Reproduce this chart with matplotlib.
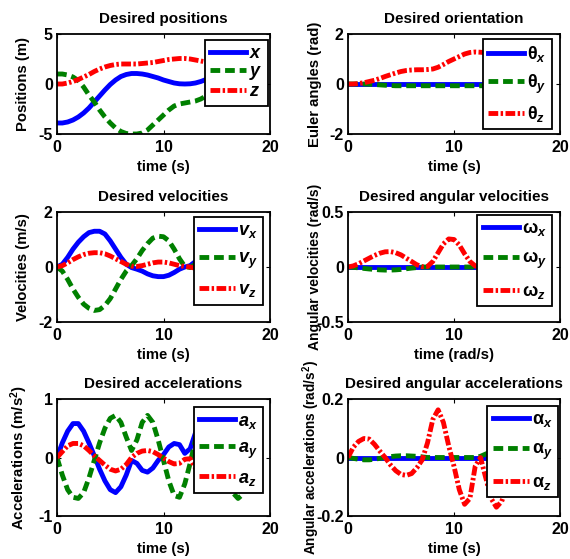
#!/usr/bin/env python3

import matplotlib
matplotlib.use('Agg')
import matplotlib.pyplot as plt
import numpy as np

# time grid of the trajectory (s)
time = np.arange(0, 17.6, 0.5)

# desired positions (m)
pos_x = [-3.9, -3.9, -3.8, -3.6, -3.3, -2.9, -2.4, -1.8, -1.2, -0.6,
         -0.05, 0.4, 0.75, 0.95, 1.05, 1.05, 1.0, 0.9, 0.75, 0.6,
         0.4, 0.25, 0.1, 0.02, 0.0, 0.02, 0.1, 0.25, 0.45,
         0.7, 0.9, 1.0, 1.05, 1.05, 1.05, 1.05]
pos_y = [1.0, 1.0, 0.9, 0.7, 0.35, -0.3, -1.1, -1.8, -2.6, -3.3,
         -3.9, -4.4, -4.75, -4.95, -5.0, -5.0, -4.9, -4.6, -4.1, -3.6,
         -3.1, -2.6, -2.2, -2.0, -1.9, -1.8, -1.7, -1.5, -1.2,
         -1.0, -0.8, -0.7, -0.6, -0.6, -0.6, -0.6]
pos_z = [0.0, 0.0, 0.1, 0.25, 0.45, 0.7, 0.95, 1.25, 1.5, 1.7,
         1.85, 1.95, 2.0, 2.0, 2.0, 2.0, 2.05, 2.1, 2.15, 2.25,
         2.35, 2.45, 2.5, 2.55, 2.55, 2.5, 2.4, 2.3, 2.2,
         2.1, 2.0, 2.0, 2.0, 2.0, 2.0, 2.0]

# desired Euler angles (rad)
ang_x = [0.0] * 36
ang_y = [0.0, 0.0, 0.0, 0.0, -0.01, -0.02, -0.035, -0.05, -0.06, -0.07] + [-0.07] * 26
ang_z = [0.0, 0.0, 0.02, 0.05, 0.1, 0.15, 0.22, 0.3, 0.37, 0.44,
         0.5, 0.54, 0.56, 0.57, 0.57, 0.58, 0.6, 0.67, 0.78, 0.9,
         1.0, 1.1, 1.2, 1.26, 1.28, 1.27, 1.25, 1.24,
         1.24, 1.24, 1.24, 1.24, 1.24, 1.24, 1.24, 1.24]

# desired velocities (m/s)
vel_x = [0.0, 0.1, 0.35, 0.65, 0.9, 1.1, 1.25, 1.3, 1.3, 1.2,
         0.95, 0.65, 0.35, 0.1, -0.02, -0.08, -0.15, -0.25, -0.32, -0.35,
         -0.35, -0.3, -0.2, -0.08, 0.0, 0.05, 0.2, 0.45,
         0.7, 0.9, 1.0, 1.0, 0.9, 0.7, 0.5, 0.3]
vel_y = [0.0, -0.15, -0.45, -0.8, -1.1, -1.35, -1.5, -1.58, -1.55, -1.4,
         -1.15, -0.8, -0.45, -0.15, 0.05, 0.3, 0.6, 0.85, 1.05, 1.12,
         1.1, 0.95, 0.65, 0.3, 0.02, -0.02, 0.1, 0.35,
         0.6, 0.7, 0.6, 0.4, 0.2, 0.0, -0.2, -0.3]
vel_z = [0.0, 0.05, 0.15, 0.27, 0.37, 0.45, 0.5, 0.52, 0.52, 0.48,
         0.4, 0.3, 0.2, 0.1, 0.03, 0.02, 0.05, 0.1, 0.15, 0.18,
         0.18, 0.15, 0.1, 0.05, 0.02, 0.0, -0.05, -0.12,
         -0.15, -0.12, -0.1, -0.05, 0.0, 0.0, 0.0, 0.0]

# desired angular velocities (rad/s)
omg_x = [0.0] * 36
omg_y = [0.0, -0.003, -0.008, -0.013, -0.018, -0.022, -0.026, -0.028, -0.028, -0.026,
         -0.022, -0.016, -0.01, -0.005, 0.0] + [0.0] * 21
omg_z = [0.0, 0.01, 0.03, 0.055, 0.08, 0.105, 0.125, 0.138, 0.14, 0.13,
         0.11, 0.08, 0.05, 0.02, 0.003, 0.005, 0.05, 0.13, 0.21, 0.255,
         0.25, 0.2, 0.12, 0.05, 0.01, -0.01, -0.05, -0.09,
         -0.12, -0.1, -0.05, 0.0, 0.0, 0.0, 0.0, 0.0]

# desired accelerations (m/s^2)
acc_x = [0.0, 0.25, 0.45, 0.58, 0.58, 0.45, 0.25, 0.03, -0.2, -0.4,
         -0.55, -0.6, -0.5, -0.3, -0.05, -0.1, -0.22, -0.25, -0.18, -0.05,
         0.05, 0.18, 0.24, 0.22, 0.07, 0.15, 0.42, 0.7,
         0.75, 0.6, 0.3, 0.0, -0.2, -0.3, -0.3, -0.2]
acc_y = [0.0, -0.3, -0.55, -0.68, -0.7, -0.6, -0.35, -0.05, 0.25, 0.5,
         0.67, 0.72, 0.6, 0.35, 0.12, 0.3, 0.6, 0.72, 0.6, 0.3,
         -0.05, -0.4, -0.65, -0.68, -0.45, -0.1, 0.3, 0.6,
         0.72, 0.6, 0.3, -0.1, -0.45, -0.6, -0.7, -0.62]
acc_z = [0.0, 0.1, 0.2, 0.24, 0.24, 0.2, 0.12, 0.03, -0.05, -0.13,
         -0.2, -0.23, -0.2, -0.12, 0.0, 0.07, 0.11, 0.12, 0.1, 0.05,
         -0.01, -0.07, -0.11, -0.1, -0.03, -0.02, -0.18, -0.3,
         -0.35, -0.3, -0.2, -0.1, 0.0, 0.05, 0.05, 0.03]

# desired angular accelerations (rad/s^2)
alp_x = [0.0] * 36
alp_y = [0.0, -0.003, -0.006, -0.008, -0.008, -0.006, -0.003, 0.0, 0.003, 0.005,
         0.006, 0.006, 0.005, 0.004, 0.002, 0.0, 0.0, 0.0, 0.0, 0.0,
         0.0, 0.0, 0.0, 0.0, 0.0, 0.004, 0.012, 0.02,
         0.02, 0.015, 0.01, 0.005, 0.0, 0.0, 0.0, 0.0]
alp_z = [0.0, 0.035, 0.055, 0.065, 0.063, 0.045, 0.022, 0.0, -0.025, -0.045,
         -0.058, -0.061, -0.055, -0.035, -0.008, 0.05, 0.13, 0.163, 0.12, 0.04,
         -0.03, -0.11, -0.16, -0.14, -0.03, 0.0, -0.07, -0.14,
         -0.17, -0.15, -0.1, -0.05, -0.01, 0.0, 0.0, 0.0]

x_ticks = [0, 10, 20]

PANELS = [
    dict(title='Desired positions', ylabel='Positions (m)', xlabel='time (s)',
         series=(pos_x, pos_y, pos_z), labels=('$x$', '$y$', '$z$'),
         yticks=[-5, 0, 5], ticklabels=['-5', '0', '5']),
    dict(title='Desired orientation', ylabel='Euler angles (rad)', xlabel='time (s)',
         series=(ang_x, ang_y, ang_z), labels=('θ$_x$', 'θ$_y$', 'θ$_z$'),
         yticks=[-2, 0, 2], ticklabels=['-2', '0', '2']),
    dict(title='Desired velocities', ylabel='Velocities (m/s)', xlabel='time (s)',
         series=(vel_x, vel_y, vel_z), labels=('$v_x$', '$v_y$', '$v_z$'),
         yticks=[-2, 0, 2], ticklabels=['-2', '0', '2']),
    dict(title='Desired angular velocities', ylabel='Angular velocities (rad/s)',
         xlabel='time (rad/s)',
         series=(omg_x, omg_y, omg_z), labels=('ω$_x$', 'ω$_y$', 'ω$_z$'),
         yticks=[-0.5, 0, 0.5], ticklabels=['-0.5', '0', '0.5'], ylabel_size=10),
    dict(title='Desired accelerations', ylabel='Accelerations (m/s$^2$)', xlabel='time (s)',
         series=(acc_x, acc_y, acc_z), labels=('$a_x$', '$a_y$', '$a_z$'),
         yticks=[-1, 0, 1], ticklabels=['-1', '0', '1']),
    dict(title='Desired angular accelerations', ylabel='Angular accelerations (rad/s$^2$)',
         xlabel='time (s)',
         series=(alp_x, alp_y, alp_z), labels=('α$_x$', 'α$_y$', 'α$_z$'),
         yticks=[-0.2, 0, 0.2], ticklabels=['-0.2', '0', '0.2'], ylabel_size=9.8),
]

# axes boxes in pixels: (left, right) per column, (top, bottom) per row
COLS = [(57, 270), (348, 560)]
ROWS = [(34, 134), (212, 322), (399, 516)]
LEGEND_ANCHOR = [(0.99, 0.94), (0.962, 0.95), (0.967, 0.955),
                 (0.962, 0.973), (0.967, 0.93), (0.99, 0.94)]
LEGEND_SPACING = [0.05, 0.45, 0.55, 0.65, 0.5, 0.65]

STYLES = [
    dict(color='#0000ff', linestyle='-'),
    dict(color='#008000', linestyle=(0, (2.0, 1.0))),
    dict(color='#ff0000', linestyle=(0, (2.0, 0.5, 0.5, 0.5))),
]


def setup_style():
    plt.rcParams.update({
        'font.family': 'Liberation Sans',
        'font.weight': 'bold',
        'font.size': 11,
        'axes.titlesize': 11,
        'axes.titleweight': 'bold',
        'axes.labelsize': 10.7,
        'axes.labelweight': 'bold',
        'axes.linewidth': 1.3,
        'mathtext.fontset': 'custom',
        'mathtext.it': 'Liberation Sans:italic:bold',
        'mathtext.rm': 'Liberation Sans:bold',
        'mathtext.bf': 'Liberation Sans:bold',
        'xtick.direction': 'in',
        'ytick.direction': 'in',
        'xtick.top': True,
        'ytick.right': True,
        'xtick.labelsize': 11.5,
        'ytick.labelsize': 11.5,
        'xtick.major.size': 3,
        'ytick.major.size': 3,
        'xtick.major.pad': 4,
        'ytick.major.pad': 3,
    })


def main():
    setup_style()
    W, H = 570, 559
    fig = plt.figure(figsize=(W / 100, H / 100), dpi=100)

    for i, panel in enumerate(PANELS):
        row, col = divmod(i, 2)
        left, right = COLS[col]
        top, bottom = ROWS[row]
        ax = fig.add_axes([left / W, 1 - bottom / H, (right - left) / W, (bottom - top) / H])

        for values, label, style in zip(panel['series'], panel['labels'], STYLES):
            ax.plot(time, values, linewidth=3.5, label=label, **style)

        ax.set_xlim(0, 20)
        ax.set_ylim(panel['yticks'][0], panel['yticks'][-1])
        ax.set_xticks(x_ticks)
        ax.set_yticks(panel['yticks'])
        ax.set_yticklabels(panel['ticklabels'])
        ax.set_title(panel['title'], pad=8)
        ax.set_xlabel(panel['xlabel'], labelpad=4)
        ylabel_size = panel.get('ylabel_size')
        if ylabel_size:
            ax.set_ylabel(panel['ylabel'], fontsize=ylabel_size)
        else:
            ax.set_ylabel(panel['ylabel'])
        ax.yaxis.set_label_coords(-0.125, 0.5)

        leg = ax.legend(loc='upper right', bbox_to_anchor=LEGEND_ANCHOR[i],
                        borderaxespad=0, fancybox=False, framealpha=1,
                        edgecolor='black', fontsize=13,
                        labelspacing=LEGEND_SPACING[i], handlelength=2.0,
                        handletextpad=0.15, borderpad=0.3)
        leg.get_frame().set_linewidth(1.3)

    fig.savefig('out.png', dpi=100)


if __name__ == '__main__':
    main()
